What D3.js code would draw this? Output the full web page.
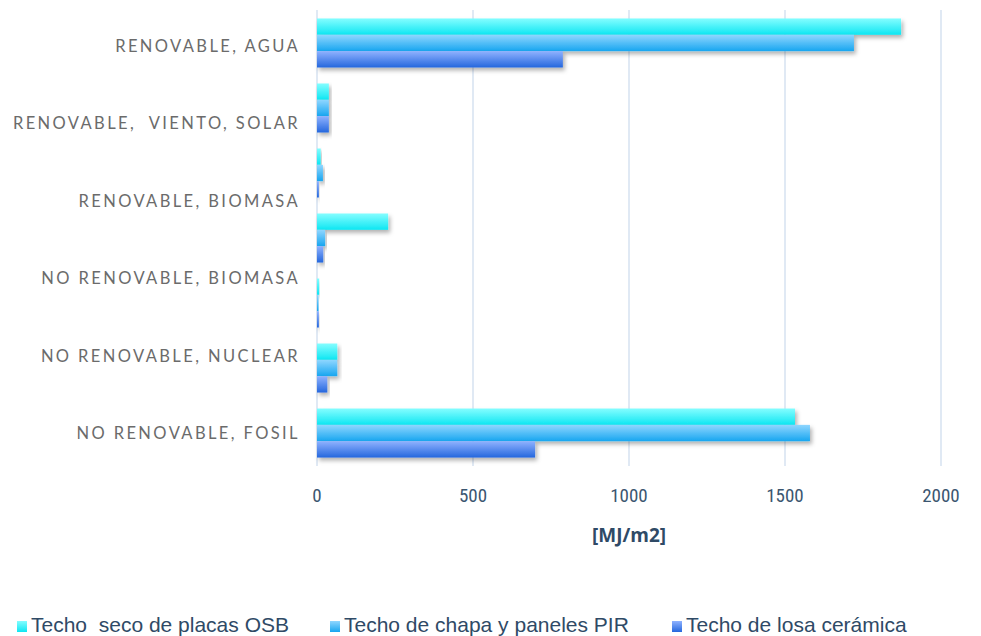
<!DOCTYPE html>
<html><head><meta charset="utf-8">
<script src="https://cdn.jsdelivr.net/npm/d3@7"></script>
<style>body{margin:0;background:#fff}svg{display:block}</style>
</head><body>
<svg id="chart" width="981" height="636"></svg>
<script>
// ---- data ----
const groups = ["g1","g2","g3","g4","g5","g6","g7"];
const series = ["Techo  seco de placas OSB","Techo de chapa y paneles PIR","Techo de losa cerámica"];
const osb  = [1872, 38, 12, 228, 7, 65, 1532];
const pir  = [1721, 38, 19, 26, 5, 65, 1580];
const losa = [788, 38, 6, 20, 6, 33, 699];
const yLabels = ["RENOVABLE, AGUA","RENOVABLE,  VIENTO, SOLAR","RENOVABLE, BIOMASA","NO RENOVABLE, BIOMASA","NO RENOVABLE, NUCLEAR","NO RENOVABLE, FOSIL"];
const xTicks = [0, 500, 1000, 1500, 2000];
const xTitle = "[MJ/m2]";

(function(){
const values = [osb, pir, losa];
const rows = groups.map((g, i) => ({g, vals: series.map((s, j) => ({s, j, v: values[j][i]}))}));

const svg = d3.select("#chart");
const pTop = 10, pBottom = 466, pLeft = 317, pRight = 941;

const x = d3.scaleLinear().domain([0, 2000]).range([pLeft, pRight]);
const y = d3.scaleBand().domain(groups).range([pTop, pBottom]).paddingInner(0.246).paddingOuter(0.13);
const ys = d3.scaleBand().domain(series).range([0, y.bandwidth()]);
const yl = d3.scalePoint().domain(yLabels).range([pTop + 36, pBottom - 33]);

const grads = [["#84fdff","#0ee6f2"],["#8fd6ff","#18a6f0"],["#8fb2ff","#2567dd"]];
const defs = svg.append("defs");
grads.forEach((c, i) => {
  const lg = defs.append("linearGradient").attr("id","g"+i).attr("x1",0).attr("y1",0).attr("x2",0).attr("y2",1);
  lg.append("stop").attr("offset","0%").attr("stop-color",c[0]);
  lg.append("stop").attr("offset","100%").attr("stop-color",c[1]);
});
const f = defs.append("filter").attr("id","sh").attr("x","-10%").attr("y","-30%").attr("width","130%").attr("height","180%");
f.append("feDropShadow").attr("dx",2).attr("dy",3).attr("stdDeviation",2).attr("flood-color","#000").attr("flood-opacity",0.3);

// gridlines
svg.append("g").selectAll("line").data(xTicks).join("line")
  .attr("x1", d => x(d)).attr("x2", d => x(d))
  .attr("y1", pTop).attr("y2", pBottom)
  .attr("stroke", "#d6e2f1").attr("stroke-width", 1.5);

// bars
const gg = svg.append("g").selectAll("g").data(rows).join("g")
  .attr("transform", d => `translate(0,${y(d.g)})`);
gg.selectAll("rect").data(d => d.vals).join("rect")
  .attr("x", x(0)).attr("y", d => ys(d.s))
  .attr("width", d => x(d.v) - x(0)).attr("height", ys.bandwidth())
  .attr("fill", d => `url(#g${d.j})`).attr("filter","url(#sh)");

// x tick labels
svg.append("g").selectAll("text").data(xTicks).join("text")
  .attr("x", d => x(d)).attr("y", 502).attr("text-anchor","middle")
  .attr("font-family","'Liberation Sans Narrow','Roboto Condensed','Open Sans',sans-serif")
  .attr("font-size", 19).attr("fill","#3b5670").text(d => d);

svg.append("text").attr("x", x(1000)).attr("y", 542).attr("text-anchor","middle")
  .attr("font-family","'Liberation Sans Narrow','Open Sans',sans-serif")
  .attr("font-weight","bold").attr("font-size", 19).attr("fill","#2f4a66").text(xTitle);

// y labels
svg.append("g").selectAll("text").data(yLabels).join("text")
  .attr("x", 300).attr("y", d => yl(d)).attr("dy","0.36em").attr("text-anchor","end")
  .attr("font-family","Lato,'Open Sans',sans-serif").attr("font-size", 16.5)
  .attr("letter-spacing", "2.4px").attr("fill","#6b6b6b")
  .style("white-space","pre").text(d => d);

// legend
const legX = [13, 326, 668];
const lg = svg.append("g").selectAll("g").data(series).join("g")
  .attr("transform", (d, i) => `translate(${legX[i]},632)`);
lg.append("rect").attr("x",4).attr("y",-11).attr("width",10).attr("height",11)
  .attr("fill", (d, i) => `url(#g${i})`);
lg.append("text").attr("x", 18).attr("y", 0)
  .attr("font-family","'Liberation Sans Narrow','Liberation Sans',sans-serif")
  .attr("font-size", 21).attr("fill","#2f4a66").style("white-space","pre")
  .text(d => d);
})();
</script>
</body></html>
